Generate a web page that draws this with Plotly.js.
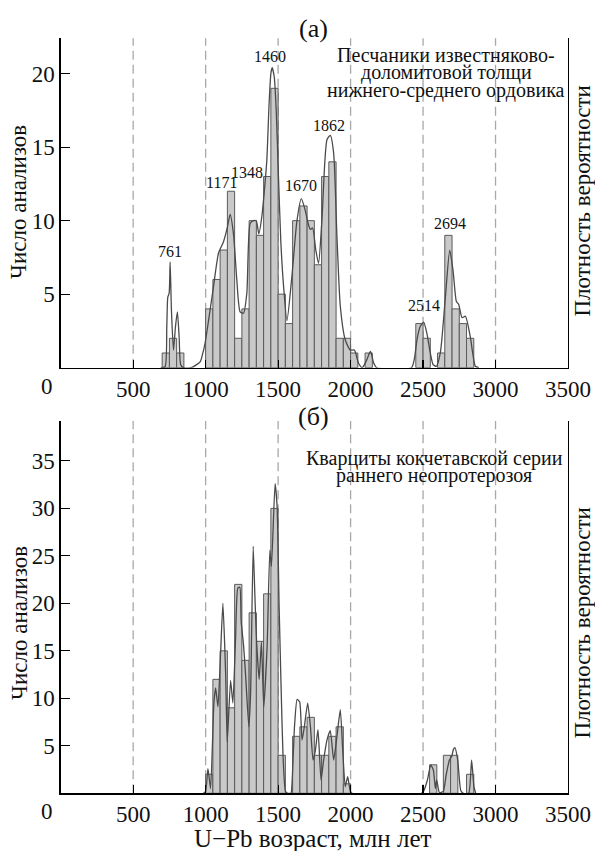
<!DOCTYPE html>
<html>
<head>
<meta charset="utf-8">
<script src="https://cdn.plot.ly/plotly-3.0.1.min.js"></script>
<style>html,body{margin:0;padding:0;background:#fff;}#chart{width:595px;height:851px;}</style>
</head>
<body>
<div id="chart"></div>
<script>
// ---------- DATA ----------
// Panel (а): histogram, bin left edges (Ma) and counts, bin width 50
const binWidth = 50;
const binsA = [700,750,800,1000,1050,1100,1150,1200,1250,1300,1350,1400,1450,1500,1550,1600,1650,1700,1750,1800,1850,1900,1950,2000,2100,2450,2500,2600,2650,2700,2750,2800];
const countsA = [1,2,1,4,6,8,12,2,4,10,9,13,19,5,3,10,11,10,7,13,14,2,2,1,1,3,2,1,9,4,3,2];
// Panel (а): probability density curve (scaled to the count axis)
const pdfAgeA = [690,720,732,739,748,755,764,778,792,805,817,828,847,900,962,980,996,1020,1054,1089,1123,1151,1169,1192,1215,1238,1261,1284,1307,1330,1349,1367,1388,1404,1422,1438,1450,1459,1473,1487,1501,1519,1538,1561,1595,1630,1660,1687,1705,1722,1738,1760,1779,1802,1837,1860,1883,1906,1929,1963,1998,2026,2055,2080,2110,2137,2160,2180,2420,2440,2458,2480,2504,2527,2550,2570,2592,2619,2654,2684,2707,2730,2746,2769,2792,2826,2861,2885];
const pdfValA = [0,0.07,2.8,4.8,5.05,7.2,3.9,1.2,2.8,3.8,2.1,0.2,0,0,0.4,0.97,1.66,3.2,5.5,7.8,8.57,9.6,10.43,9.1,5.96,3.8,3.7,5.05,9.8,10.0,10.0,9.1,10.3,11.9,14.1,18.0,20.0,20.4,19.8,17.5,13.4,8.5,5.5,3.2,6.2,10.0,11.5,10.7,9.9,9.4,9.5,8.0,7.1,10.0,15.5,15.8,14.6,8.9,4.2,1.9,1.2,1.2,0.3,0,0.5,1.1,0.3,0,0,0.6,1.9,2.8,3.1,2.3,1.0,0.2,0.1,1.0,4.8,8.0,6.6,4.5,4.3,3.4,3.5,2.1,0.1,0];
// Panel (а): peak labels
const peakLabelsA = ['761','1171','1348','1460','1670','1862','2514','2694'];
const peakLabelXA = [755,1107,1287,1445,1659,1853,2509,2689];
const peakLabelYA = [7.87,12.56,13.24,21.14,12.36,16.44,4.2,9.78];

// Panel (б): histogram
const binsB = [1000,1050,1100,1150,1200,1250,1300,1350,1400,1450,1500,1600,1650,1700,1750,1800,1850,1900,1950,2545,2640,2690,2800];
const countsB = [2,12,15,9,22,14,19,16,21,30,4,6,7,8,4,4,6,7,1,3,4,4,2];
// Panel (б): probability density curve
const pdfAgeB = [985,1000,1016,1034,1057,1069,1085,1103,1119,1138,1149,1172,1188,1206,1222,1236,1245,1262,1275,1298,1310,1328,1340,1351,1369,1385,1401,1424,1443,1454,1479,1493,1507,1521,1534,1551,1567,1589,1596,1613,1631,1649,1665,1681,1704,1723,1741,1757,1775,1796,1814,1837,1860,1883,1906,1929,1947,1963,1980,1998,2010,2490,2503,2530,2553,2571,2585,2594,2613,2640,2659,2682,2698,2709,2720,2739,2760,2778,2815,2835,2851,2863];
const pdfValB = [0,0.2,2.6,0.5,9.5,11.1,9.1,14.7,20.0,12.6,5.4,11.9,9.5,16.1,21.6,21.7,18.1,15.5,12.6,7.0,10.5,26.0,20.7,16.1,12.0,15.9,9.1,15.4,25.6,23.9,32.6,30.2,19.6,10.9,3.9,0.2,0,0,1.05,7.0,9.9,9.6,5.6,7.0,9.5,7.0,3.5,4.5,6.7,1.4,3.5,5.6,6.6,3.5,6.0,8.8,4.2,0.7,1.75,0.2,0,0,0.2,1.4,3.0,2.45,0.5,1.4,0.07,0.2,1.9,3.5,3.9,4.6,4.8,3.5,0.3,0,0,3.5,0.7,0];

// Axis ticks
const xTicks = [500,1000,1500,2000,2500,3000,3500];
const dashedAt = [500,1000,1500,2000,2500,3000];
const yTicksA = [5,10,15,20];
const yTicksB = [5,10,15,20,25,30,35];

// Texts
const panelLabelA = '(а)';
const panelLabelB = '(б)';
const descA = ['Песчаники известняково-','доломитовой толщи','нижнего-среднего ордовика'];
const descB = ['Кварциты кокчетавской серии','раннего неопротерозоя'];
const yTitle = 'Число анализов';
const y2Title = 'Плотность вероятности';
const xTitle = 'U−Pb возраст, млн лет';

// ---------- STYLE / LAYOUT ----------
const FONT = 'Liberation Serif';
const W = 595, H = 851;
const px2x = p => p / W;
const px2y = p => 1 - p / H;

const barStyle = {color:'#c9c9c9', line:{color:'#5a5a5a', width:1}};
const curveStyle = {color:'#4a4a4a', width:1.3, shape:'spline', smoothing:0.6};

const traces = [
  {type:'bar', x:binsA, y:countsA, width:binWidth, offset:0, marker:barStyle, xaxis:'x', yaxis:'y', hoverinfo:'skip'},
  {type:'scatter', mode:'lines', x:pdfAgeA, y:pdfValA, line:curveStyle, xaxis:'x', yaxis:'y', hoverinfo:'skip'},
  {type:'bar', x:binsB, y:countsB, width:binWidth, offset:0, marker:barStyle, xaxis:'x2', yaxis:'y2', hoverinfo:'skip'},
  {type:'scatter', mode:'lines', x:pdfAgeB, y:pdfValB, line:Object.assign({}, curveStyle, {smoothing:0.5}), xaxis:'x2', yaxis:'y2', hoverinfo:'skip'}
];

const xAxisBase = {
  range:[0,3500], tickvals:xTicks, ticks:'inside', ticklen:8, tickwidth:1.2, tickcolor:'#000',
  showline:true, linecolor:'#000', linewidth:1.3, showgrid:false, zeroline:false,
  tickfont:{family:FONT, size:23, color:'#111'}, fixedrange:true
};
const yAxisBase = {
  ticks:'inside', ticklen:9, tickwidth:1.2, tickcolor:'#000',
  showline:true, mirror:true, linecolor:'#000', linewidth:1.3, showgrid:false, zeroline:false,
  tickfont:{family:FONT, size:23, color:'#111'}, fixedrange:true
};

const xDom = [px2x(60.7), px2x(568)];
const yDomA = [px2y(367.7), px2y(38.3)];
const yDomB = [px2y(793.3), px2y(421)];

const shapes = [];
dashedAt.forEach(v => {
  ['y','y2'].forEach((ya,i) => {
    shapes.push({type:'line', xref: i===0?'x':'x2', yref: ya+' domain', x0:v, x1:v, y0:0, y1:1,
      line:{color:'#a8a8a8', width:1.3, dash:'9px,5px'}, layer:'below'});
  });
});

const annotations = [];
function txt(text, x, y, size, opts) {
  annotations.push(Object.assign({text:text, x:x, y:y, xref:'paper', yref:'paper', showarrow:false,
    xanchor:'center', yanchor:'middle', font:{family:FONT, size:size, color:'#111'}}, opts||{}));
}
// zero labels of the x axes
txt('0', px2x(47), px2y(386.7), 23);
txt('0', px2x(47), px2y(811.7), 23);
// panel labels
txt(panelLabelA, px2x(313), px2y(28), 26);
txt(panelLabelB, px2x(313), px2y(416), 26);
// descriptions
const descYA = [55, 73, 91];
descA.forEach((t,i) => txt(t, px2x(446), px2y(descYA[i]), 20));
const descYB = [458, 476];
descB.forEach((t,i) => txt(t, px2x(434), px2y(descYB[i]), 20));
// axis titles
txt(yTitle, px2x(19), px2y(202), 23, {textangle:-90});
txt(yTitle, px2x(19), px2y(623), 23, {textangle:-90});
txt(y2Title, px2x(581.5), px2y(201), 23, {textangle:-90});
txt(y2Title, px2x(581.5), px2y(623), 23, {textangle:-90});
txt(xTitle, px2x(313), px2y(838), 25);
// peak labels
peakLabelsA.forEach((t,i) => annotations.push({text:t, x:peakLabelXA[i], y:peakLabelYA[i], xref:'x', yref:'y',
  showarrow:false, xanchor:'center', yanchor:'middle', font:{family:FONT, size:16, color:'#111'}}));
// arrows on the right axes
annotations.push({text:'', x:3500, y:22.45, xref:'x', yref:'y', showarrow:true, ax:0, ay:20,
  arrowhead:2, arrowsize:1.3, arrowwidth:1.3, arrowcolor:'#000'});
annotations.push({text:'', x:3500, y:39.25, xref:'x2', yref:'y2', showarrow:true, ax:0, ay:20,
  arrowhead:2, arrowsize:1.3, arrowwidth:1.3, arrowcolor:'#000'});

const layout = {
  width:W, height:H, margin:{l:0, r:0, t:0, b:0},
  paper_bgcolor:'#fff', plot_bgcolor:'#fff', showlegend:false, bargap:0,
  font:{family:FONT, color:'#111'},
  xaxis: Object.assign({}, xAxisBase, {domain:xDom, anchor:'y'}),
  yaxis: Object.assign({}, yAxisBase, {domain:yDomA, anchor:'x', range:[0,22.4], tickvals:yTicksA}),
  xaxis2: Object.assign({}, xAxisBase, {domain:xDom, anchor:'y2'}),
  yaxis2: Object.assign({}, yAxisBase, {domain:yDomB, anchor:'x2', range:[0,39.2], tickvals:yTicksB}),
  shapes: shapes,
  annotations: annotations
};

Plotly.newPlot('chart', traces, layout, {displayModeBar:false, staticPlot:true});
</script>
</body>
</html>
